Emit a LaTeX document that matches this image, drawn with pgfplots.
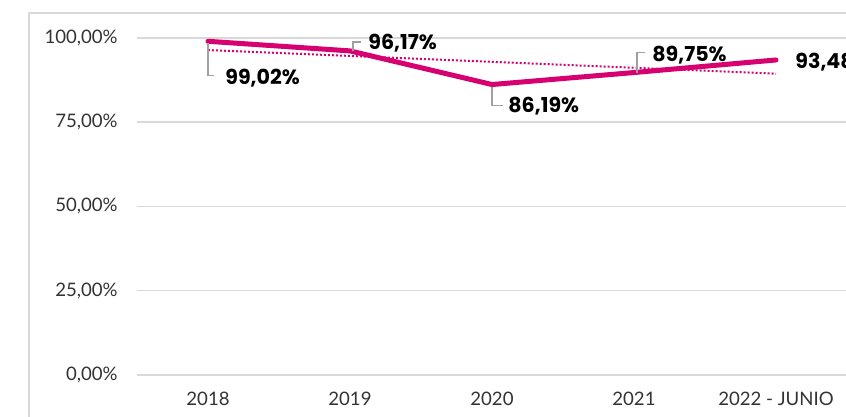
\documentclass[border=0pt]{standalone}
\usepackage{fontspec}
\setmainfont{Lato}
\newfontfamily\lab{Poppins}
\usepackage{pgfplots}
\pgfplotsset{compat=1.18}
\definecolor{mag}{RGB}{214,0,112}
\definecolor{gridc}{RGB}{217,217,217}
\definecolor{leadc}{RGB}{160,160,160}
\tikzset{
    lead/.style={draw=leadc, line width=0.6pt},
    lbl/.style={anchor=west, inner sep=0pt, font=\lab\bfseries\fontsize{10.3}{12}\selectfont},
}
\begin{document}
\begin{tikzpicture}
\path[use as bounding box, clip] (0,0) rectangle (423pt,208.5pt);
\begin{axis}[
    at={(68.5pt,21pt)}, anchor=south west,
    scale only axis, width=355pt, height=168.5pt,
    xmin=-0.5, xmax=4.5, ymin=0, ymax=100,
    xtick={0,1,2,3,4},
    xticklabels={2018,2019,2020,2021,2022 - JUNIO},
    ytick={0,25,50,75,100},
    yticklabels={{0,00\%},{25,00\%},{50,00\%},{75,00\%},{100,00\%}},
    ymajorgrids, grid style={gridc, line width=0.75pt},
    axis line style={draw=none}, major tick length=0pt,
    tick label style={font=\fontsize{9.3}{11}\selectfont, text=black!80},
    xticklabel style={anchor=base, yshift=-15.5pt, inner sep=0pt},
    yticklabel style={anchor=east, xshift=-9.5pt, inner sep=0pt},
    clip=false,
]
% serie
\addplot[mag, line width=2.5pt, line cap=round, line join=round] coordinates {
    (0,99.02) (1,96.17) (2,86.19) (3,89.75) (4,93.48)
};
% tendencia lineal
\addplot[mag, line width=1pt, dash pattern=on 1pt off 1pt] coordinates {
    (0,96.42) (4,89.42)
};
% etiquetas
\draw[lead] ([yshift=-1pt]axis cs:0,99.02) -- ([yshift=-17pt]axis cs:0,99.02) -- ([xshift=3pt,yshift=-17pt]axis cs:0,99.02);
\node[lbl] at ([xshift=8.5pt,yshift=-18.5pt]axis cs:0,99.02) {99,02\%};
\draw[lead] ([xshift=1.5pt]axis cs:1,96.17) -- ([xshift=1.5pt,yshift=4.5pt]axis cs:1,96.17) -- ([xshift=5.5pt,yshift=4.5pt]axis cs:1,96.17);
\node[lbl] at ([xshift=9pt,yshift=4pt]axis cs:1,96.17) {96,17\%};
\draw[lead] ([yshift=-1pt]axis cs:2,86.19) -- ([yshift=-10.5pt]axis cs:2,86.19) -- ([xshift=5.5pt,yshift=-10.5pt]axis cs:2,86.19);
\node[lbl] at ([xshift=8pt,yshift=-11pt]axis cs:2,86.19) {86,19\%};
\draw[lead] ([xshift=1.5pt]axis cs:3,89.75) -- ([xshift=1.5pt,yshift=10pt]axis cs:3,89.75) -- ([xshift=5.5pt,yshift=10pt]axis cs:3,89.75);
\node[lbl] at ([xshift=9pt,yshift=8.75pt]axis cs:3,89.75) {89,75\%};
\node[lbl] at ([xshift=9.5pt,yshift=-1pt]axis cs:4,93.48) {93,48\%};
\end{axis}
\draw[gridc, line width=0.6pt] (14.5pt,0) -- (14.5pt,202pt) -- (423pt,202pt);
\end{tikzpicture}
\end{document}
